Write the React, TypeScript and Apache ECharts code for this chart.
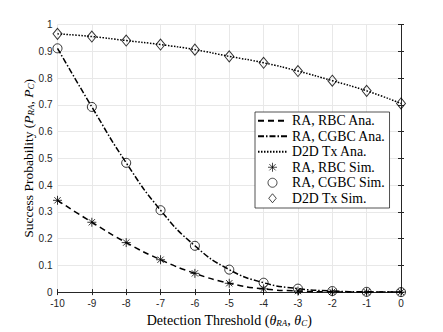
import React, { useEffect, useRef } from "react";
import * as echarts from "echarts";

const thresholds = [-10, -9, -8, -7, -6, -5, -4, -3, -2, -1, 0];
const rbcValues = [0.343, 0.261, 0.185, 0.121, 0.07, 0.033, 0.012, 0.004, 0.001, 0.0, 0.0];
const cgbcValues = [0.911, 0.692, 0.483, 0.306, 0.173, 0.084, 0.035, 0.013, 0.004, 0.001, 0.0];
const d2dValues = [0.965, 0.955, 0.94, 0.925, 0.906, 0.881, 0.857, 0.826, 0.79, 0.752, 0.705];
const rbcSim = [0.343, 0.261, 0.185, 0.121, 0.07, 0.033, 0.012, 0.004, 0.001, 0.0, 0.0];
const cgbcSim = [0.911, 0.692, 0.483, 0.306, 0.173, 0.084, 0.035, 0.013, 0.004, 0.001, 0.0];
const d2dSim = [0.965, 0.955, 0.94, 0.925, 0.906, 0.881, 0.857, 0.826, 0.79, 0.752, 0.705];
const seriesNames = [
  "RA, RBC Ana.",
  "RA, CGBC Ana.",
  "D2D Tx Ana.",
  "RA, RBC Sim.",
  "RA, CGBC Sim.",
  "D2D Tx Sim.",
];

const pairs = (ys: number[]) => thresholds.map((x, i) => [x, ys[i]]);

const AXIS = "#262626";
const GRID = "#e8e8e8";
const SERIF = "'Liberation Serif', 'DejaVu Serif', serif";
const SANS = "'Liberation Sans', Arial, sans-serif";
const STAR = "path://M5,0L5,10M0,5L10,5M1.5,1.5L8.5,8.5M1.5,8.5L8.5,1.5";
const DIAMOND = "path://M5,0L10,6L5,12L0,6Z";

export default function App() {
  const ref = useRef<HTMLDivElement>(null);
  useEffect(() => {
    if (!ref.current) return;
    const chart = echarts.init(ref.current, undefined, { renderer: "svg" });
    const richOf = (fs: number) => ({
      i: { fontFamily: SERIF, fontStyle: "italic", fontSize: fs, color: "#000" },
      s: { fontFamily: SERIF, fontStyle: "italic", fontSize: 9, color: "#000", padding: [5, 0, 0, 0] },
      n: { fontFamily: SERIF, fontSize: fs, color: "#000" },
    });
    const lineBase = (name: string, ys: number[], type: any) => ({
      name,
      type: "line",
      data: pairs(ys),
      smooth: 0.5,
      symbol: "none",
      lineStyle: { color: "#000", width: 1.5, type },
      itemStyle: { color: "#000" },
      z: 3,
    });
    const simBase = (name: string, ys: number[], symbol: string, size: any) => ({
      name,
      type: "scatter",
      data: pairs(ys),
      symbol,
      symbolSize: size,
      itemStyle: { color: "rgba(0,0,0,0)", borderColor: "#000", borderWidth: 1 },
      z: 4,
    });
    const hiddenSymbol = { color: "rgba(0,0,0,0)", borderWidth: 0, opacity: 0 };
    chart.setOption({
      animation: false,
      backgroundColor: "#fff",
      grid: { left: 57.5, right: 42, top: 24.5, bottom: 37, containLabel: false },
      legend: {
        data: [
          { name: seriesNames[0], itemStyle: hiddenSymbol },
          { name: seriesNames[1], itemStyle: hiddenSymbol },
          { name: seriesNames[2], itemStyle: hiddenSymbol },
          { name: seriesNames[3], icon: STAR, itemStyle: { borderWidth: 0.9 } },
          { name: seriesNames[4], icon: "circle", itemStyle: { borderWidth: 0.9 } },
          { name: seriesNames[5], icon: DIAMOND, itemStyle: { borderWidth: 0.9 } },
        ],
        orient: "vertical",
        left: 255,
        top: 112,
        backgroundColor: "#fff",
        borderColor: AXIS,
        borderWidth: 0.8,
        borderRadius: 0,
        padding: [1, 4, 2, 2],
        itemGap: 0,
        itemWidth: 29,
        itemHeight: 9,
        textStyle: { fontFamily: SERIF, fontSize: 13.8, lineHeight: 15.5, color: "#000" },
      },
      xAxis: [
        {
          type: "value",
          min: -10,
          max: 0,
          interval: 1,
          name: "Detection Threshold ({i|θ}{s|RA}{n|, }{i|θ}{s|C}{n|)}",
          nameLocation: "middle",
          nameGap: 18,
          nameTextStyle: { fontFamily: SERIF, fontSize: 14, color: "#000", rich: richOf(14) },
          axisLine: { show: true, lineStyle: { color: AXIS, width: 1 } },
          axisTick: { show: true, inside: true, length: 3, lineStyle: { color: AXIS } },
          axisLabel: { fontFamily: SANS, fontSize: 10, color: AXIS, margin: 6 },
          splitLine: { show: true, lineStyle: { color: GRID, width: 1 } },
        },
        {
          type: "value",
          position: "top",
          min: -10,
          max: 0,
          interval: 1,
          axisLine: { show: true, lineStyle: { color: AXIS, width: 1 } },
          axisTick: { show: true, inside: true, length: 3, lineStyle: { color: AXIS } },
          axisLabel: { show: false },
          splitLine: { show: false },
        },
      ],
      yAxis: [
        {
          type: "value",
          min: 0,
          max: 1,
          interval: 0.1,
          name: "Success Probability ({i|P}{s|RA}{n|, }{i|P}{s|C}{n|)}",
          nameLocation: "middle",
          nameRotate: 90,
          nameGap: 22,
          nameMoveOverlap: false,
          nameTextStyle: { fontFamily: SERIF, fontSize: 13.5, color: "#000", rich: richOf(13.5) },
          axisLine: { show: true, lineStyle: { color: AXIS, width: 1 } },
          axisTick: { show: true, inside: true, length: 3, lineStyle: { color: AXIS } },
          axisLabel: {
            fontFamily: SANS,
            fontSize: 10,
            color: AXIS,
            margin: 5,
            formatter: (v: number) => String(Math.round(v * 10) / 10),
          },
          splitLine: { show: true, lineStyle: { color: GRID, width: 1 } },
        },
        {
          type: "value",
          position: "right",
          min: 0,
          max: 1,
          interval: 0.1,
          axisLine: { show: true, lineStyle: { color: AXIS, width: 1 } },
          axisTick: { show: true, inside: true, length: 3, lineStyle: { color: AXIS } },
          axisLabel: { show: false },
          splitLine: { show: false },
        },
      ],
      series: [
        lineBase(seriesNames[0], rbcValues, [6, 4]),
        lineBase(seriesNames[1], cgbcValues, [6, 2, 1.5, 2]),
        lineBase(seriesNames[2], d2dValues, [1.5, 1.5]),
        simBase(seriesNames[3], rbcSim, STAR, 9),
        simBase(seriesNames[4], cgbcSim, "circle", 9),
        simBase(seriesNames[5], d2dSim, "diamond", [9, 11]),
      ],
    });
    return () => chart.dispose();
  }, []);
  return (
    <div
      ref={ref}
      style={{ position: "fixed", left: 0, top: 0, width: 443, height: 332 }}
    />
  );
}
